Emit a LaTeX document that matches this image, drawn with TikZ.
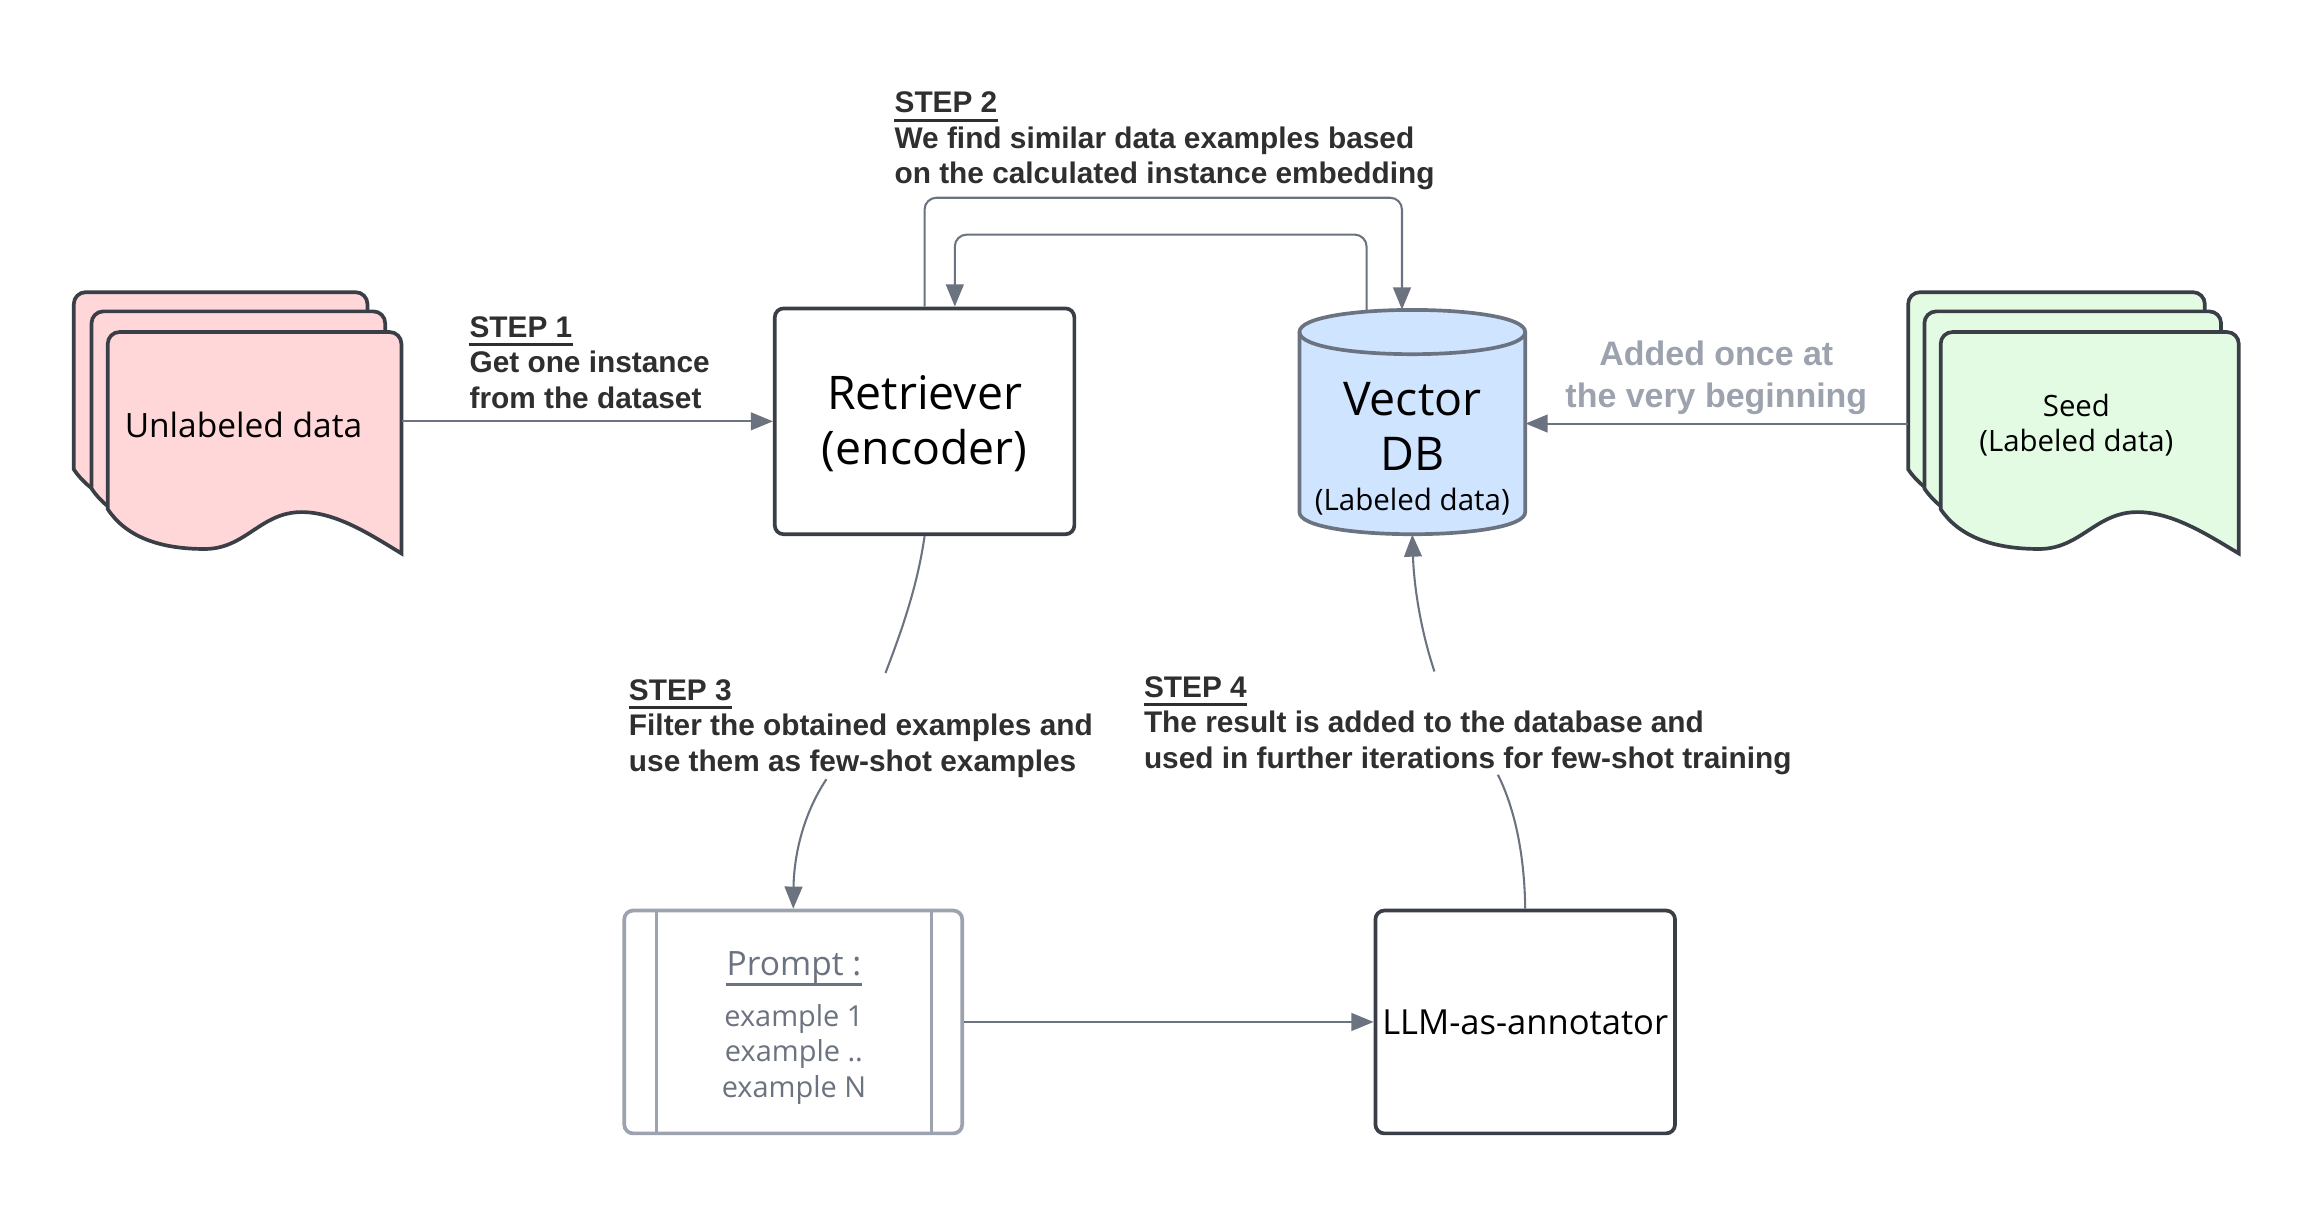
\documentclass[tikz,border=0pt]{standalone}
\usepackage{fontspec}
\setmainfont{Open Sans}
\newfontfamily\labfont{Liberation Sans}
\usetikzlibrary{arrows.meta,calc}
\definecolor{dark}{HTML}{3A3F47}
\definecolor{agray}{HTML}{6B7280}
\definecolor{lgray}{HTML}{9CA3AF}
\definecolor{pinkf}{HTML}{FFD7D9}
\definecolor{greenf}{HTML}{E3FAE3}
\definecolor{bluef}{HTML}{CFE4FF}
\definecolor{ltext}{HTML}{2F2F2F}
\newcommand\docshape[4]{%
  \path[draw=dark, line width=2.5pt, fill=#4, shift={(#1,#2)}, rounded corners=8pt]
  (0,120) -- (0,0) -- (#3,0) -- (#3,30) [sharp corners] -- (#3,150)
  .. controls ({0.9*#3},138) and ({0.78*#3},122) .. ({0.66*#3},122)
  .. controls ({0.52*#3},122) and ({0.47*#3},147) .. ({0.33*#3},147)
  .. controls ({0.17*#3},147) and ({0.06*#3},138) .. (0,120) -- cycle;}
\tikzset{
  box/.style={draw=dark, line width=2.5pt, rounded corners=6pt, fill=white,
    minimum width=203pt, minimum height=153pt, inner sep=0pt, align=center},
  conn/.style={draw=agray, line width=1.4pt},
  tip/.style={-{Triangle[length=15pt,width=12pt]}},
  stephead/.style={font=\labfont\bfseries\fontsize{20.2}{24}\selectfont, text=ltext,
    inner sep=0pt, anchor=base west},
  stepbody/.style={font=\labfont\bfseries\fontsize{20.2}{24}\selectfont, text=ltext,
    inner sep=0pt, anchor=base west, align=left},
  ul/.style={draw=ltext, line width=2.2pt},
  ghost/.style={inner sep=0pt, minimum height=150pt},
}
\begin{document}
\begin{tikzpicture}[x=1pt,y=-1pt]
\useasboundingbox[fill=white] (0,0) rectangle (1568,820.6);

% ---- Unlabeled data stack
\docshape{50}{198}{199}{pinkf}
\docshape{62}{211}{199}{pinkf}
\docshape{73}{225}{199}{pinkf}
\node[ghost, minimum width=199pt] (unl) at (172.5,287) {};
\node[font=\fontsize{22.7}{28}\selectfont, inner sep=0pt] (unltxt) at (165,288) {Unlabeled data};

% ---- Seed stack
\docshape{1293}{198}{201}{greenf}
\docshape{1304}{211}{201}{greenf}
\docshape{1315}{225}{202}{greenf}
\node[ghost, minimum width=224pt] (seed) at (1405,287) {};
\node[font=\fontsize{19.9}{24}\selectfont, align=center, inner sep=0pt] (seedtxt) at (1407,288) {Seed\\(Labeled data)};

% ---- Retriever
\node[box] (ret) at (626.5,285.5) {};
\node[font=\fontsize{31.4}{37}\selectfont, align=center, inner sep=0pt] (rettxt) at (626.5,287) {Retriever\\(encoder)};

% ---- Vector DB cylinder
\path[draw=agray, line width=2.5pt, fill=bluef]
  (880.5,225) -- (880.5,347) .. controls (880.5,367) and (1033.5,367) .. (1033.5,347)
  -- (1033.5,225) .. controls (1033.5,205) and (880.5,205) .. (880.5,225) -- cycle;
\path[draw=agray, line width=2.5pt]
  (880.5,225) .. controls (880.5,245) and (1033.5,245) .. (1033.5,225);
\node[ghost, minimum width=153pt, minimum height=152pt] (db) at (957,286) {};
\node[font=\fontsize{31.5}{37}\selectfont, align=center, inner sep=0pt] (dbtxt) at (957,289) {Vector\\DB};
\node[font=\fontsize{20}{24}\selectfont, inner sep=0pt] (dbsub) at (957,340) {(Labeled data)};

% ---- Prompt
\node[box, draw=lgray, minimum width=229pt, minimum height=151pt] (prom) at (537.5,692.5) {};
\draw[lgray, line width=2pt] ([xshift=23pt]prom.north west) -- ([xshift=23pt]prom.south west);
\draw[lgray, line width=2pt] ([xshift=-22pt]prom.north east) -- ([xshift=-22pt]prom.south east);
\node[font=\fontsize{22.7}{26}\selectfont, text=agray, inner sep=0pt, anchor=base] (promh) at (538,661) {Prompt :};
\draw[draw=agray, line width=2pt] ([yshift=-6pt]promh.base west) -- ([yshift=-6pt]promh.base east);
\node[font=\fontsize{19.6}{24}\selectfont, text=agray, align=center, inner sep=0pt, anchor=base] (promb) at (538,743.5) {example 1\\example ..\\example N};

% ---- LLM
\node[box, minimum height=151pt] (llm) at (1033.5,692.5) {};
\node[font=\fontsize{23.4}{28}\selectfont, inner sep=0pt] (llmtxt) at (1033.5,693) {LLM-as-annotator};

% ---- connectors
\draw[conn, tip] (unl.east |- ret.west) -- (ret.west);
\draw[conn, tip] (seed.west) -- (db.east |- seed.west);
\draw[conn, tip] (prom.east) -- (llm.west |- prom.east);

\coordinate (s2a) at (950,134);
\coordinate (s2b) at (647,159);
\draw[conn, tip, rounded corners=8pt] (ret.north) |- (s2a) -- ([xshift=-7pt]db.north);
\draw[conn, tip, rounded corners=8pt] ([xshift=-31pt,yshift=-1pt]db.north) |- (s2b) -- ([xshift=20.5pt]ret.north);

\coordinate (s3a) at (600,456);
\coordinate (s3b) at (560,528);
\draw[conn] (ret.south) .. controls (622,395) and (612,425) .. (s3a);
\draw[conn, tip] (s3b) .. controls (544,552) and (538,580) .. (prom.north);

\coordinate (s4a) at (1015,525);
\coordinate (s4b) at (972,455);
\draw[conn] (llm.north) .. controls (1033,575) and (1025,545) .. (s4a);
\draw[conn, tip] (s4b) .. controls (962,425) and (958,395) .. (db.south);

% ---- labels
\node[stephead] (h1) at (318,228.5) {STEP 1};
\draw[ul] ([yshift=-5pt]h1.base west) -- ([yshift=-5pt]h1.base east);
\node[stepbody] (b1) at (318,276.5) {Get one instance\\from the dataset};

\node[stephead] (h2) at (606,76.5) {STEP 2};
\draw[ul] ([yshift=-5pt]h2.base west) -- ([yshift=-5pt]h2.base east);
\node[stepbody] (b2) at (606,124.5) {We find similar data examples based\\on the calculated instance embedding};

\node[stephead] (h3) at (426,474.5) {STEP 3};
\draw[ul] ([yshift=-5pt]h3.base west) -- ([yshift=-5pt]h3.base east);
\node[stepbody] (b3) at (426,522.5) {Filter the obtained examples and\\use them as few-shot examples};

\node[stephead] (h4) at (775,472.5) {STEP 4};
\draw[ul] ([yshift=-5pt]h4.base west) -- ([yshift=-5pt]h4.base east);
\node[stepbody] (b4) at (775,520.5) {The result is added to the database and\\used in further iterations for few-shot training};

\node[font=\labfont\bfseries\fontsize{23}{28}\selectfont, text=lgray, align=center, inner sep=0pt, anchor=base] (once) at (1163,276) {Added once at\\the very beginning};
\end{tikzpicture}
\end{document}
